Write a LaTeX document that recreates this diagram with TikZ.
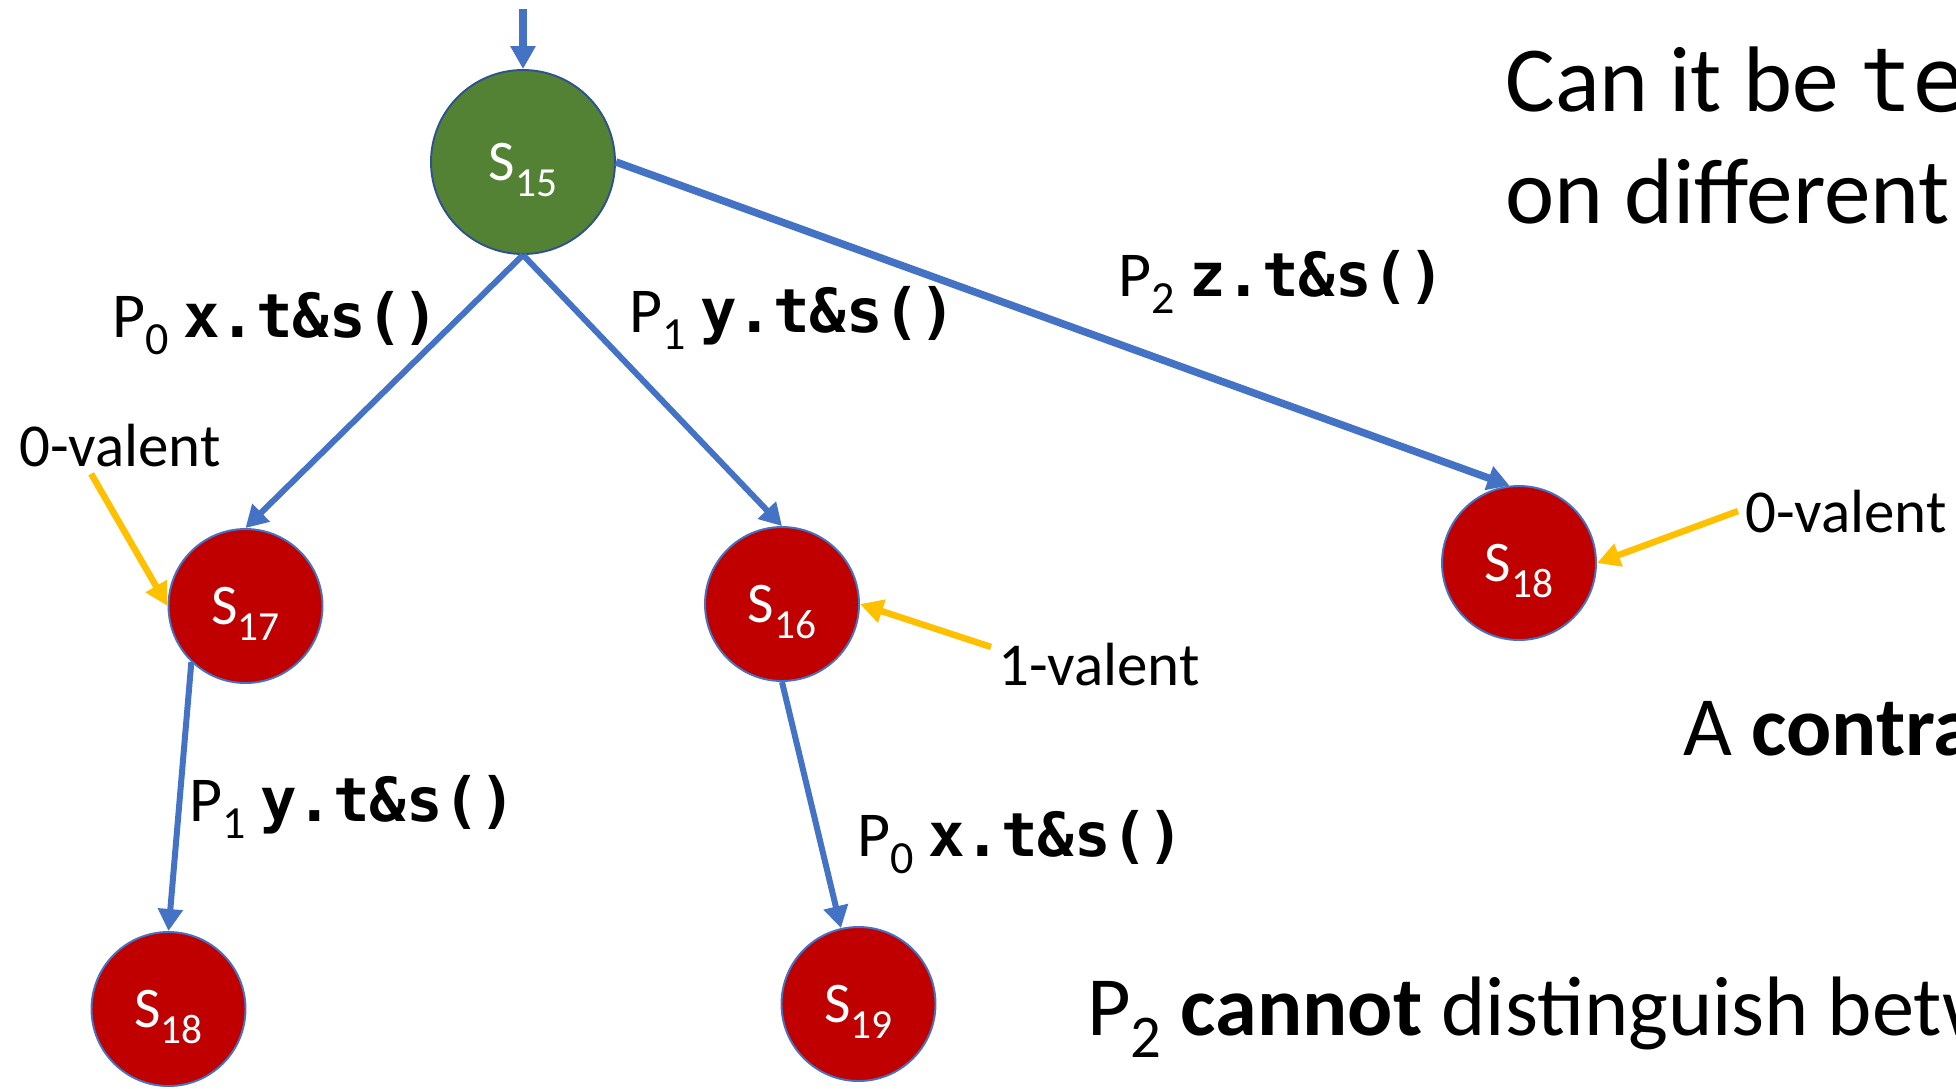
\documentclass[tikz,border=0pt]{standalone}
\usepackage{fontspec}
\setmainfont{Carlito}
\setmonofont{DejaVu Sans Mono}[Scale=0.95]
\usepackage{xcolor}
\usetikzlibrary{arrows.meta, positioning}
\definecolor{flowblue}{RGB}{68,114,196}
\definecolor{darkblue}{RGB}{47,82,143}
\definecolor{valred}{RGB}{192,0,0}
\definecolor{rootgreen}{RGB}{84,130,53}
\definecolor{gold}{RGB}{255,192,0}
\newcommand{\ix}[1]{\raisebox{-0.27em}{\scalebox{0.72}{#1}}}

\begin{document}
\begin{tikzpicture}[on grid, >=Stealth]
  \tikzstyle{state} = [circle, draw=flowblue, line width=1.1pt, fill=valred, minimum size=3.08cm, inner sep=0pt, text depth=0pt, font=\fontsize{32.7}{36}\selectfont\color{white}]
  \tikzstyle{root} = [state, fill=rootgreen, draw=darkblue, minimum size=3.68cm]
  \tikzstyle{op} = [inner sep=0pt, anchor=base west, font=\fontsize{36.4}{40}\selectfont]
  \tikzstyle{tag} = [inner sep=4pt, anchor=base west, font=\fontsize{34.7}{38}\selectfont]
  \tikzstyle{says} = [inner sep=0pt, anchor=base west, font=\fontsize{48}{52}\selectfont]
  \tikzstyle{flow} = [-{Triangle[length=0.44cm, width=0.48cm]}, line width=0.12cm, flowblue]
  \tikzstyle{hint} = [-{Triangle[length=0.46cm, width=0.46cm]}, line width=0.13cm, gold]

  \useasboundingbox (0,0) rectangle (39.12,-21.76);

  % states
  \node [root] (s15) at (10.46,-3.24) {S\ix{15}};
  \node [state, below left=8.88cm and 5.55cm of s15] (s17) {S\ix{17}};
  \node [state, below right=8.84cm and 5.18cm of s15] (s16) {S\ix{16}};
  \node [state, below right=8.02cm and 19.92cm of s15] (s18) {S\ix{18}};
  \node [state, below left=8.06cm and 1.54cm of s17] (s18b) {S\ix{18}};
  \node [state, below right=8.00cm and 1.53cm of s16] (s19) {S\ix{19}};

  \coordinate (entry) at (10.46,-0.18);
  \draw[flow, line width=0.17cm, -{Triangle[length=0.46cm, width=0.48cm]}] (entry) -- (s15.north);
  \draw[flow] (s15.south) -- (s17.north);
  \draw[flow] (s15.south) -- (s16.north);
  \draw[flow, line width=0.15cm] (s15.east) -- (s18.97);
  \draw[flow] (s17.-134) -- (s18b.north);
  \draw[flow] (s16.south) -- (s19.103);

  % steps
  \node [op] (op1) at (2.24,-6.75) {P\ix{0} \texttt{\bfseries x.t\&s()}};
  \node [op] (op2) at (12.58,-6.64) {P\ix{1} \texttt{\bfseries y.t\&s()}};
  \node [op] (op3) at (22.36,-5.92) {P\ix{2} \texttt{\bfseries z.t\&s()}};
  \node [op] (op4) at (3.78,-16.42) {P\ix{1} \texttt{\bfseries y.t\&s()}};
  \node [op] (op5) at (17.14,-17.12) {P\ix{0} \texttt{\bfseries x.t\&s()}};

  % valence
  \node [tag] (v0l) at (0.24,-9.32) {0-valent};
  \node [tag] (v1) at (19.82,-13.70) {1-valent};
  \node [tag] (v0r) at (34.76,-10.64) {0-valent};
  \draw[hint] (v0l.-135) -- (s17.west);
  \draw[hint] (v1.171) -- (s16.east);
  \draw[hint] (v0r.west) -- (s18.east);

  % remarks
  \node [says, font=\fontsize{53}{58}\selectfont] (ask1) at (30.10,-2.22) {Can it be \texttt{te}};
  \node [says, font=\fontsize{53}{58}\selectfont] (ask2) at (30.10,-4.46) {on different};
  \node [says] (odd) at (33.66,-15.10) {A \textbf{contra}};
  \node [says] (p2) at (21.74,-20.70) {P\ix{2} \textbf{cannot} distinguish betw};
\end{tikzpicture}
\end{document}
